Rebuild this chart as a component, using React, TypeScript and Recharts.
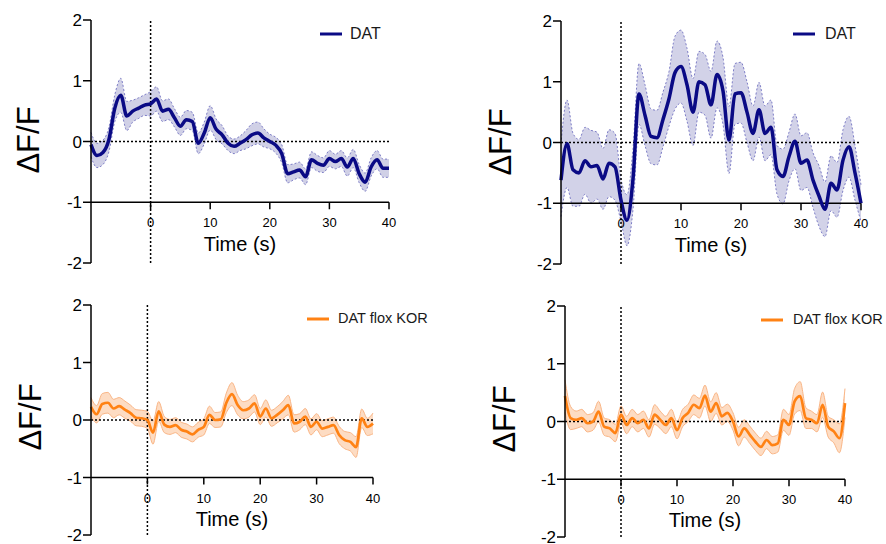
import React from 'react';
import { ComposedChart, Line, Area, XAxis, YAxis, ReferenceLine, Legend, Label } from 'recharts';

// ---------- data ----------
const time = [
  -10, -9, -8, -7, -6, -5, -4, -3, -2, -1,
  0, 1, 2, 3, 4, 5, 6, 7, 8, 9,
  10, 11, 12, 13, 14, 15, 16, 17, 18, 19,
  20, 21, 22, 23, 24, 25, 26, 27, 28, 29,
  30, 31, 32, 33, 34, 35, 36, 37, 38, 39, 40,
];

const xTicks = [0, 10, 20, 30, 40];
const yTicks = [-2, -1, 0, 1, 2];

// top-left: DAT
const datMeanA = [
  -0.05, -0.23, -0.18, 0.03, 0.55, 0.76, 0.42, 0.5, 0.55, 0.6,
  0.62, 0.7, 0.5, 0.53, 0.39, 0.25, 0.36, 0.33, -0.03, 0.14,
  0.39, 0.2, 0.11, -0.03, -0.08, -0.03, 0.03, 0.11, 0.14, 0.06,
  0.0, -0.06, -0.2, -0.53, -0.5, -0.47, -0.58, -0.3, -0.36, -0.39,
  -0.28, -0.33, -0.28, -0.42, -0.28, -0.53, -0.67, -0.42, -0.3, -0.44, -0.44,
];
const datSemA = [
  0.2, 0.2, 0.2, 0.2, 0.22, 0.28, 0.24, 0.18, 0.17, 0.17,
  0.2, 0.2, 0.17, 0.17, 0.15, 0.15, 0.15, 0.15, 0.17, 0.18,
  0.2, 0.17, 0.15, 0.12, 0.12, 0.12, 0.15, 0.18, 0.18, 0.15,
  0.12, 0.13, 0.15, 0.15, 0.13, 0.13, 0.13, 0.13, 0.13, 0.12,
  0.13, 0.12, 0.13, 0.15, 0.15, 0.15, 0.15, 0.15, 0.15, 0.15, 0.15,
];

// top-right: DAT
const datMeanB = [
  -0.62, -0.02, -0.45, -0.5, -0.3, -0.4, -0.38, -0.6, -0.34, -0.4,
  -0.95, -1.28, -0.6, 0.8, 0.45, 0.1, 0.08, 0.38, 0.72, 1.15,
  1.25, 0.95, 0.5, 1.0, 0.95, 0.62, 1.12, 0.85, 0.04, 0.8,
  0.82, 0.5, 0.15, 0.54, 0.15, 0.25, -0.45, -0.56, -0.23, 0.02,
  -0.34, -0.29, -0.62, -0.88, -1.1, -0.67, -0.78, -0.29, -0.07, -0.5, -1.0,
];
const datSemB = [
  0.6, 0.72, 0.6, 0.55, 0.55, 0.6, 0.55, 0.5, 0.55, 0.55,
  0.35, 0.42, 0.5, 0.5, 0.5, 0.45, 0.45, 0.45, 0.45, 0.6,
  0.6, 0.6, 0.55, 0.5, 0.5, 0.55, 0.55, 0.55, 0.55, 0.5,
  0.5, 0.5, 0.45, 0.45, 0.45, 0.45, 0.4, 0.45, 0.4, 0.45,
  0.45, 0.45, 0.45, 0.5, 0.45, 0.45, 0.45, 0.5, 0.5, 0.45, 0.3,
];

// bottom-left: DAT flox KOR
const korMeanA = [
  0.23, 0.1, 0.28, 0.3, 0.2, 0.24, 0.18, 0.12, 0.04, 0.03,
  0.0, -0.22, 0.15, -0.08, -0.12, -0.09, -0.17, -0.2, -0.25, -0.17,
  -0.12, 0.09, 0.0, 0.01, 0.3, 0.45, 0.26, 0.17, 0.2, 0.29,
  0.06, 0.2, 0.03, 0.09, 0.17, 0.26, -0.06, -0.03, 0.06, -0.12,
  -0.03, -0.15, -0.12, -0.09, -0.26, -0.35, -0.38, -0.47, 0.03, -0.12, -0.06,
];
const korSemA = [
  0.16, 0.15, 0.18, 0.18, 0.16, 0.15, 0.15, 0.14, 0.14, 0.14,
  0.15, 0.2, 0.17, 0.14, 0.13, 0.13, 0.13, 0.13, 0.13, 0.13,
  0.14, 0.15, 0.13, 0.13, 0.17, 0.2, 0.17, 0.15, 0.15, 0.15,
  0.14, 0.15, 0.14, 0.14, 0.15, 0.17, 0.15, 0.14, 0.14, 0.14,
  0.14, 0.14, 0.14, 0.14, 0.15, 0.15, 0.16, 0.18, 0.16, 0.15, 0.18,
];

// bottom-right: DAT flox KOR
const korMeanB = [
  0.44, 0.06, 0.03, 0.06, -0.03, 0.0, 0.17, -0.09, -0.12, -0.2,
  0.12, -0.06, 0.06, -0.03, 0.03, -0.12, 0.12, 0.03, -0.06, 0.06,
  -0.15, 0.06, 0.15, 0.29, 0.23, 0.45, 0.17, 0.32, 0.09, 0.15,
  0.0, -0.26, -0.12, -0.23, -0.35, -0.44, -0.32, -0.41, -0.38, 0.03,
  -0.06, 0.35, 0.44, 0.06, 0.03, -0.03, 0.29, -0.09, -0.17, -0.29, 0.32,
];
const korSemB = [
  0.28, 0.2, 0.15, 0.15, 0.15, 0.15, 0.18, 0.15, 0.15, 0.15,
  0.15, 0.15, 0.15, 0.15, 0.15, 0.15, 0.17, 0.15, 0.15, 0.15,
  0.15, 0.15, 0.15, 0.17, 0.17, 0.18, 0.17, 0.18, 0.15, 0.15,
  0.15, 0.16, 0.15, 0.15, 0.15, 0.15, 0.15, 0.15, 0.15, 0.18,
  0.18, 0.22, 0.25, 0.18, 0.15, 0.15, 0.22, 0.18, 0.2, 0.25, 0.25,
];

const seriesNames = ['DAT', 'DAT flox KOR'];

// ---------- layout / style ----------
const FONT = '"Liberation Sans", Arial, Helvetica, sans-serif';
const Y_W = 40;
const X_H = 1;
const NAVY = '#0a0a85';
const ORANGE = '#ff8214';

function rows(mean: number[], sem: number[]) {
  return time.map((t, i) => ({
    t,
    mean: mean[i],
    band: [mean[i] - sem[i], mean[i] + sem[i]],
  }));
}

type Cfg = {
  x: number; y: number; w: number; h: number;
  plot: { left: number; right: number; top: number; bottom: number };
  data: any[];
  name: string;
  color: string;
  bandFill: string;
  bandStroke: string;
  bandDash: string;
  lineWidth: number;
  legend: { left: number; top: number; font: number; gap: number };
  yLabel: { cx: number; cy: number };
  timeOffset: number;
};

const panels: Cfg[] = [
  {
    x: 0, y: 0, w: 443, h: 272,
    plot: { left: 91, right: 389, top: 20, bottom: 263 },
    data: rows(datMeanA, datSemA),
    name: seriesNames[0], color: NAVY, bandFill: '#c8c8e2', bandStroke: '#7d7dc6', bandDash: '2 2', lineWidth: 3.5,
    legend: { left: 320, top: 25, font: 16, gap: 8 },
    yLabel: { cx: 28, cy: 140 },
    timeOffset: 35,
  },
  {
    x: 443, y: 0, w: 443, h: 272,
    plot: { left: 561, right: 861, top: 21, bottom: 264 },
    data: rows(datMeanB, datSemB),
    name: seriesNames[0], color: NAVY, bandFill: '#cacae4', bandStroke: '#7d7dc6', bandDash: '2 2', lineWidth: 3.5,
    legend: { left: 793 - 443, top: 25, font: 16, gap: 10 },
    yLabel: { cx: 57, cy: 142 },
    timeOffset: 35,
  },
  {
    x: 0, y: 272, w: 443, h: 272,
    plot: { left: 91, right: 373, top: 305, bottom: 535 },
    data: rows(korMeanA, korSemA),
    name: seriesNames[1], color: ORANGE, bandFill: '#fdd6b8', bandStroke: '#fab585', bandDash: '0', lineWidth: 2.7,
    legend: { left: 307, top: 38, font: 14.5, gap: 9 },
    yLabel: { cx: 30, cy: 145 },
    timeOffset: 34,
  },
  {
    x: 443, y: 272, w: 443, h: 272,
    plot: { left: 565, right: 845, top: 306, bottom: 537 },
    data: rows(korMeanB, korSemB),
    name: seriesNames[1], color: ORANGE, bandFill: '#fdd6b8', bandStroke: '#fab585', bandDash: '0', lineWidth: 2.7,
    legend: { left: 761 - 443, top: 39, font: 14.5, gap: 10 },
    yLabel: { cx: 61, cy: 147 },
    timeOffset: 34,
  },
];

function Panel({ cfg }: { cfg: Cfg }) {
  const { x, y, w, h, plot } = cfg;
  const ml = plot.left - x - Y_W;
  const mr = x + w - plot.right;
  const mt = plot.top - y;
  const mb = y + h - plot.bottom - X_H;
  const shift = (plot.bottom - plot.top) / 4;
  const axisY = plot.bottom - y - shift;

  const renderTick = (p: any) => (
    <g>
      <line x1={p.x} y1={axisY} x2={p.x} y2={axisY + 7} stroke="#000" strokeWidth={1.5} />
      <text x={p.x} y={axisY + 25} textAnchor="middle" fontSize={13} fontFamily={FONT} fill="#000">
        {p.payload.value}
      </text>
    </g>
  );

  return (
    <div style={{ position: 'absolute', left: x, top: y, width: w, height: h }}>
      <ComposedChart
        width={w}
        height={h}
        data={cfg.data}
        margin={{ top: mt, right: mr, bottom: mb, left: ml }}
      >
        <XAxis
          type="number"
          dataKey="t"
          domain={[-10, 40]}
          ticks={xTicks}
          axisLine={false}
          tickLine={false}
          tickSize={0}
          tickMargin={0}
          height={X_H}
          interval={0}
          tick={renderTick}
        />
        <YAxis
          type="number"
          domain={[-2, 2]}
          ticks={yTicks}
          allowDataOverflow
          width={Y_W}
          tickSize={8}
          tickMargin={1}
          interval={0}
          axisLine={{ stroke: '#000', strokeWidth: 1.5 }}
          tickLine={{ stroke: '#000', strokeWidth: 1.5 }}
          tick={{ fill: '#000', fontSize: 17, fontFamily: FONT }}
        >
          <Label
            content={() => (
              <text
                x={cfg.yLabel.cx}
                y={cfg.yLabel.cy}
                transform={`rotate(-90 ${cfg.yLabel.cx} ${cfg.yLabel.cy})`}
                textAnchor="middle"
                dominantBaseline="central"
                fontSize={31}
                fontFamily={FONT}
                fill="#000"
              >
                ΔF/F
              </text>
            )}
          />
        </YAxis>
        <Area
          dataKey="band"
          type="monotone"
          fill={cfg.bandFill}
          fillOpacity={0.85}
          stroke={cfg.bandStroke}
          strokeWidth={1}
          strokeDasharray={cfg.bandDash}
          legendType="none"
          isAnimationActive={false}
          dot={false}
          activeDot={false}
        />
        <ReferenceLine y={0} stroke="#000" strokeWidth={1.5} strokeDasharray="2 2" />
        <ReferenceLine x={0} stroke="#000" strokeWidth={1.5} strokeDasharray="2 2" />
        <ReferenceLine y={-1} stroke="#000" strokeWidth={1.5}>
          <Label
            value="Time (s)"
            position="bottom"
            offset={cfg.timeOffset}
            fontSize={20}
            fontFamily={FONT}
            fill="#000"
          />
        </ReferenceLine>
        <Line
          dataKey="mean"
          name={cfg.name}
          type="monotone"
          stroke={cfg.color}
          strokeWidth={cfg.lineWidth}
          dot={false}
          activeDot={false}
          isAnimationActive={false}
        />
        <Legend
          layout="horizontal"
          verticalAlign="middle"
          align="center"
          wrapperStyle={{ left: cfg.legend.left, top: cfg.legend.top, width: 'auto' }}
          content={(props: any) => {
            const items = (props.payload || []).filter((it: any) => it.type !== 'none');
            const label = items.length ? items[0].value : cfg.name;
            return (
              <div style={{ display: 'flex', alignItems: 'center', fontFamily: FONT, fontSize: cfg.legend.font, color: '#1a1a1a', whiteSpace: 'nowrap', lineHeight: '17px' }}>
                <svg width={22} height={4} style={{ display: 'block' }}>
                  <line x1={0} y1={2} x2={22} y2={2} stroke={cfg.color} strokeWidth={3} />
                </svg>
                <span style={{ marginLeft: cfg.legend.gap }}>{label}</span>
              </div>
            );
          }}
        />
      </ComposedChart>
    </div>
  );
}

export default function App() {
  return (
    <div style={{ position: 'absolute', left: 0, top: 0, width: 886, height: 544, background: '#fff', overflow: 'hidden' }}>
      {panels.map((p, i) => (
        <Panel key={i} cfg={p} />
      ))}
    </div>
  );
}
